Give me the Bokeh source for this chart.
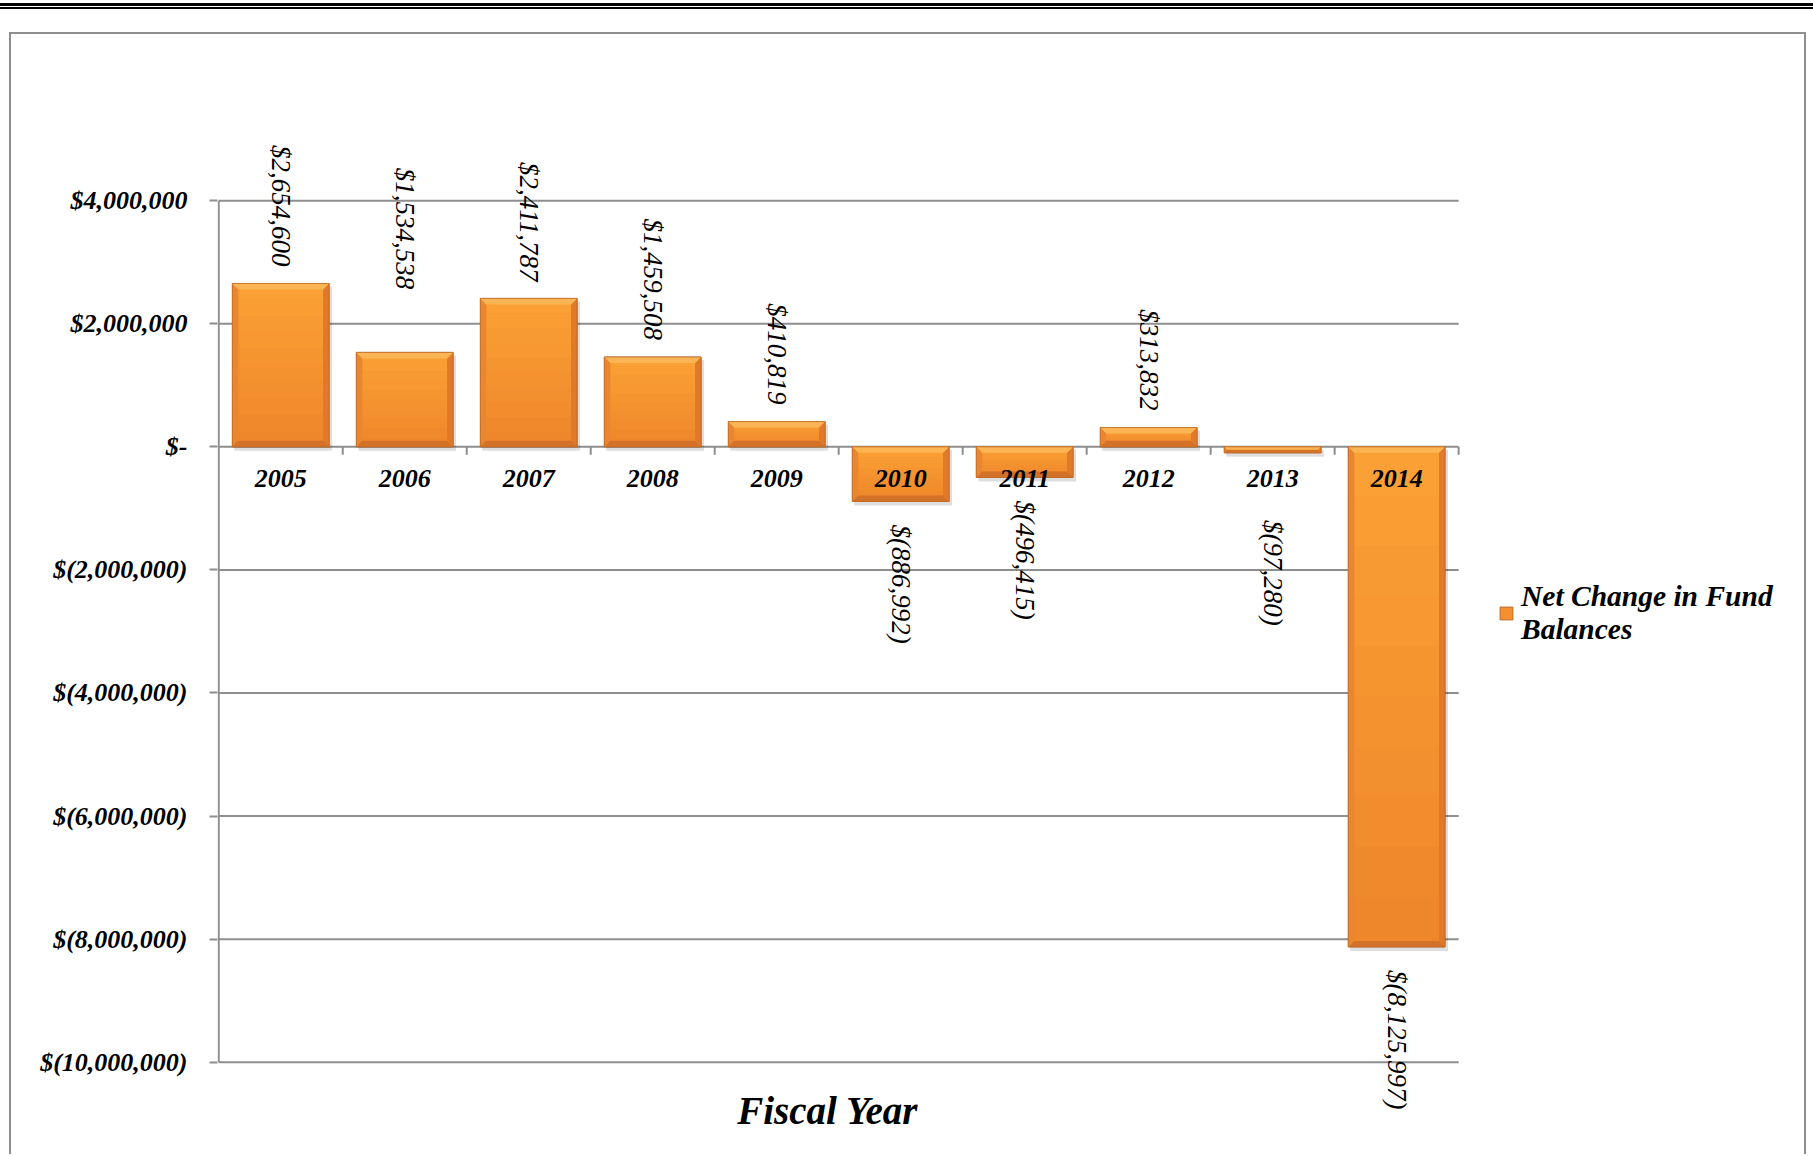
import math
from bokeh.plotting import figure
from bokeh.models import Range1d, FixedTicker, Legend, LegendItem, Div, ColumnDataSource
from bokeh.layouts import column
from bokeh.core.properties import value
from bokeh.embed import file_html
from bokeh.resources import INLINE

# ---------------- data ----------------
years = ["2005", "2006", "2007", "2008", "2009", "2010", "2011", "2012", "2013", "2014"]
net_change = [2654600, 1534538, 2411787, 1459508, 410819,
              -886992, -496415, 313832, -97280, -8125997]
y_ticks = [4000000, 2000000, 0, -2000000, -4000000, -6000000, -8000000, -10000000]
series_name = "Net Change in Fund\nBalances"
x_title = "Fiscal Year"


def money(v):
    if v == 0:
        return "$-"
    return f"${v:,}" if v > 0 else f"$({abs(v):,})"


# ---------------- layout / style constants ----------------
BORDER = 2
W, H = 1797, 1122                      # outer size incl. CSS border (border-box)
CW, CH = W - 2 * BORDER, H - BORDER    # canvas size
MB_LEFT, MB_RIGHT, MB_TOP, MB_BOTTOM = 206, 0, 10, 0
FRAME_W = CW - MB_LEFT - MB_RIGHT
FRAME_H = CH - MB_TOP - MB_BOTTOM
PX_PER_CAT = 123.68
X_MIN = -0.51
X_MAX = X_MIN + FRAME_W / PX_PER_CAT
Y_MIN, Y_MAX = -11.532e6, 6.538e6
PX_X = PX_PER_CAT
UPP = (Y_MAX - Y_MIN) / FRAME_H           # y data units per px
GRAY = "#8e8e8e"
FONT = value("Liberation Serif")
BAR_W = 0.78
BEVEL_PX = 6
POS_GAP_PX, NEG_GAP_PX = 17, 23
label_nudge_px = [0, 46, 0, 0, 0, 0, 0, 0, 44, 0]   # manual label nudges as in original

idx = list(range(len(years)))
cat_lo, cat_hi = idx[0] - 0.5, idx[-1] + 0.5

p = figure(width=W, height=H, x_range=Range1d(X_MIN, X_MAX), y_range=Range1d(Y_MIN, Y_MAX),
           x_axis_location=None, toolbar_location=None, output_backend="svg",
           min_border_left=MB_LEFT, min_border_right=MB_RIGHT,
           min_border_top=MB_TOP, min_border_bottom=MB_BOTTOM,
           background_fill_color="white", border_fill_color="white",
           margin=(0, 0, 0, 9),
           styles={"border-top": f"{BORDER}px solid {GRAY}", "border-left": f"{BORDER}px solid {GRAY}",
                   "border-right": f"{BORDER}px solid {GRAY}"})
p.outline_line_color = None
for g in p.xgrid:
    g.visible = False

yax = p.yaxis[0]
yax.ticker = FixedTicker(ticks=y_ticks)
yax.major_label_overrides = {t: money(t) for t in y_ticks}
yax.major_label_text_font = "Liberation Serif"
yax.major_label_text_font_style = "bold italic"
yax.major_label_text_font_size = "26px"
yax.major_label_text_color = "black"
yax.major_label_standoff = 22
yax.major_tick_out = 8
yax.major_tick_in = 0
yax.minor_tick_out = 0
yax.minor_tick_in = 0
yax.major_tick_line_color = GRAY
yax.major_tick_line_width = 2
yax.axis_line_color = None
p.ygrid.visible = False

# horizontal gridlines over the category span, vertical axis line, category ticks
p.segment(x0=[cat_lo] * len(y_ticks), y0=y_ticks, x1=[cat_hi] * len(y_ticks), y1=y_ticks,
          line_color=GRAY, line_width=2)
p.segment(x0=[cat_lo], y0=[min(y_ticks)], x1=[cat_lo], y1=[max(y_ticks)], line_color=GRAY, line_width=2)
p.ray(x=[i + 0.5 for i in idx], y=[0] * len(idx), length=8, length_units="screen",
      angle=-math.pi / 2, line_color=GRAY, line_width=2)

# ---------------- bars ----------------
hi = [max(v, 0) for v in net_change]
lo = [min(v, 0) for v in net_change]
half = BAR_W / 2

# soft shadow
p.quad(left=[i - half + 2 / PX_X for i in idx], right=[i + half + 3 / PX_X for i in idx],
       top=[h - 3 * UPP for h in hi], bottom=[l - 4 * UPP for l in lo],
       fill_color="black", fill_alpha=0.13, line_color=None)

base = p.vbar(x=idx, top=net_change, bottom=0, width=BAR_W,
              fill_color="#F4902F", line_color="#B8682A", line_width=1)

# vertical gradient bands
N_BANDS = 10
c_top, c_bot = (251, 160, 52), (238, 135, 43)
bl, br, bt, bb, bc = [], [], [], [], []
for i in idx:
    for k in range(N_BANDS):
        t = k / (N_BANDS - 1)
        bl.append(i - half)
        br.append(i + half)
        bt.append(hi[i] - (hi[i] - lo[i]) * k / N_BANDS)
        bb.append(hi[i] - (hi[i] - lo[i]) * (k + 1) / N_BANDS)
        c = tuple(int(round(a + (b - a) * t)) for a, b in zip(c_top, c_bot))
        bc.append("#%02x%02x%02x" % c)
p.quad(left=bl, right=br, top=bt, bottom=bb, fill_color=bc, line_color=None)

# bevels
tx, ty, bxs, bys, lx, ly, rx, ry = [], [], [], [], [], [], [], []
for i in idx:
    h_px = (hi[i] - lo[i]) / UPP
    b_px = min(BEVEL_PX, h_px / 2)
    dx, dy = b_px / PX_X, b_px * UPP
    L, R = i - half, i + half
    tx.append([L, R, R - dx, L + dx]); ty.append([hi[i], hi[i], hi[i] - dy, hi[i] - dy])
    bxs.append([L, R, R - dx, L + dx]); bys.append([lo[i], lo[i], lo[i] + dy, lo[i] + dy])
    lx.append([L, L + dx, L + dx, L]); ly.append([hi[i], hi[i] - dy, lo[i] + dy, lo[i]])
    rx.append([R, R - dx, R - dx, R]); ry.append([hi[i], hi[i] - dy, lo[i] + dy, lo[i]])
p.patches(xs=lx, ys=ly, fill_color="#EB8630", line_color=None)
p.patches(xs=rx, ys=ry, fill_color="#E0792A", line_color=None)
p.patches(xs=bxs, ys=bys, fill_color="#D47128", line_color=None)
p.patches(xs=tx, ys=ty, fill_color="#FCB554", line_color=None)
p.vbar(x=idx, top=net_change, bottom=0, width=BAR_W, fill_color=None,
       line_color="#B8682A", line_width=1, line_alpha=0.7)

# ---------------- labels ----------------
pos = [i for i in idx if net_change[i] >= 0]
neg = [i for i in idx if net_change[i] < 0]
pos_src = ColumnDataSource(dict(
    x=pos, y=[net_change[i] + (POS_GAP_PX + label_nudge_px[i]) * UPP for i in pos],
    t=[money(net_change[i]) for i in pos]))
neg_src = ColumnDataSource(dict(
    x=neg, y=[net_change[i] - (NEG_GAP_PX + label_nudge_px[i]) * UPP for i in neg],
    t=[money(net_change[i]) for i in neg]))
for src, align in ((pos_src, "right"), (neg_src, "left")):
    p.text(x="x", y="y", text="t", source=src, angle=-math.pi / 2, text_align=align,
           text_baseline="middle", text_font=FONT, text_font_style="italic",
           text_font_size="27px", text_color="black")

# category labels along the zero line
p.text(x=idx, y=[-32 * UPP] * len(idx), text=years, text_align="center", text_baseline="middle",
       text_font=FONT, text_font_style="bold italic", text_font_size="26px", text_color="black")

# axis title
p.text(x=[(cat_lo + cat_hi) / 2], y=[min(y_ticks) - 48 * UPP], text=[x_title], x_offset=-11,
       text_align="center", text_baseline="middle", text_font=FONT,
       text_font_style="bold italic", text_font_size="39px", text_color="black")

# legend
legend = Legend(items=[LegendItem(label=series_name, renderers=[base])],
                location=(1281, 510), padding=0, margin=0, spacing=0,
                border_line_color=None, background_fill_alpha=0,
                glyph_width=16, glyph_height=16, label_standoff=7,
                label_text_font="Liberation Serif", label_text_font_style="bold italic",
                label_text_font_size="29.5px", label_text_color="black")
p.add_layout(legend)

# double rule above the chart box
top_lines = Div(text="", width=1813, height=6, margin=(3, 0, 23, 0),
                styles={"border-top": "3px solid #000", "border-bottom": "2px solid #000"})

layout = column(top_lines, p)
open("out.html", "w").write(file_html(layout, INLINE))
